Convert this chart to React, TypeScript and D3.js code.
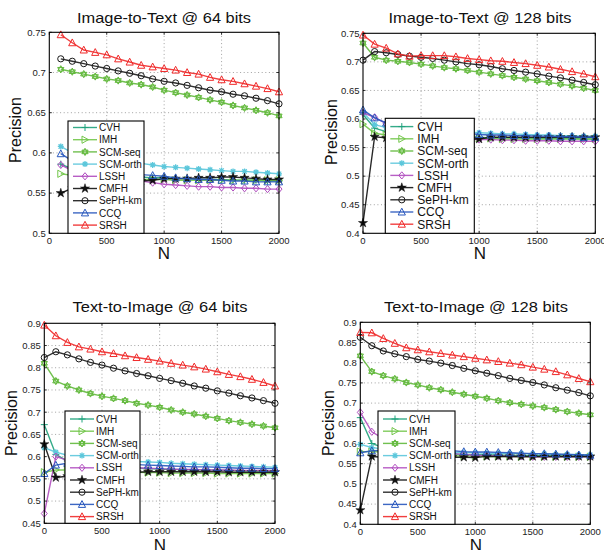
import React from "react";
import * as d3 from "d3";

const SERIES = ["CVH", "IMH", "SCM-seq", "SCM-orth", "LSSH", "CMFH", "SePH-km", "CCQ", "SRSH"];

const X_FROM_100 = [100, 200, 300, 400, 500, 600, 700, 800, 900, 1000, 1100, 1200, 1300, 1400, 1500, 1600, 1700, 1800, 1900, 2000];
const X_FROM_0 = [0, 100, 200, 300, 400, 500, 600, 700, 800, 900, 1000, 1100, 1200, 1300, 1400, 1500, 1600, 1700, 1800, 1900, 2000];
const X_TICKS = [0, 500, 1000, 1500, 2000];

// Image-to-Text @ 64 bits
const i2t64Cvh = [0.586, 0.580, 0.577, 0.575, 0.573, 0.572, 0.571, 0.570, 0.569, 0.569, 0.568, 0.568, 0.567, 0.567, 0.567, 0.566, 0.566, 0.566, 0.565, 0.565];
const i2t64Imh = [0.574, 0.572, 0.571, 0.570, 0.569, 0.568, 0.568, 0.567, 0.567, 0.567, 0.566, 0.566, 0.566, 0.566, 0.566, 0.566, 0.566, 0.566, 0.566, 0.566];
const i2t64Seq = [0.704, 0.701, 0.698, 0.695, 0.692, 0.690, 0.687, 0.685, 0.682, 0.678, 0.675, 0.672, 0.669, 0.666, 0.663, 0.659, 0.656, 0.653, 0.650, 0.646];
const i2t64Orth = [0.608, 0.600, 0.596, 0.593, 0.591, 0.589, 0.588, 0.587, 0.585, 0.583, 0.582, 0.581, 0.580, 0.579, 0.578, 0.577, 0.577, 0.576, 0.575, 0.574];
const i2t64Lssh = [0.585, 0.578, 0.574, 0.571, 0.569, 0.567, 0.566, 0.565, 0.563, 0.561, 0.560, 0.559, 0.558, 0.558, 0.557, 0.557, 0.556, 0.556, 0.555, 0.555];
const i2t64Cmfh = [0.550, 0.556, 0.560, 0.562, 0.563, 0.564, 0.565, 0.565, 0.566, 0.568, 0.568, 0.568, 0.569, 0.569, 0.570, 0.570, 0.569, 0.568, 0.567, 0.567];
const i2t64Seph = [0.717, 0.714, 0.711, 0.708, 0.705, 0.702, 0.699, 0.696, 0.692, 0.689, 0.687, 0.684, 0.681, 0.678, 0.676, 0.673, 0.671, 0.668, 0.665, 0.661];
const i2t64Ccq = [0.599, 0.590, 0.584, 0.580, 0.577, 0.575, 0.574, 0.573, 0.572, 0.571, 0.569, 0.568, 0.567, 0.567, 0.566, 0.565, 0.565, 0.564, 0.564, 0.564];
const i2t64Srsh = [0.747, 0.737, 0.728, 0.725, 0.722, 0.717, 0.713, 0.709, 0.707, 0.705, 0.703, 0.700, 0.698, 0.694, 0.691, 0.689, 0.686, 0.683, 0.680, 0.676];

// Image-to-Text @ 128 bits
const i2t128Cvh = [0.608, 0.584, 0.578, 0.575, 0.573, 0.571, 0.570, 0.569, 0.569, 0.568, 0.568, 0.567, 0.567, 0.567, 0.566, 0.566, 0.566, 0.566, 0.566, 0.565, 0.565];
const i2t128Imh = [0.591, 0.575, 0.572, 0.570, 0.569, 0.568, 0.567, 0.567, 0.566, 0.566, 0.566, 0.566, 0.565, 0.565, 0.565, 0.565, 0.565, 0.565, 0.565, 0.565, 0.565];
const i2t128Seq = [0.733, 0.708, 0.703, 0.701, 0.699, 0.696, 0.693, 0.690, 0.688, 0.685, 0.682, 0.679, 0.676, 0.673, 0.670, 0.667, 0.664, 0.661, 0.658, 0.654, 0.650];
const i2t128Orth = [0.612, 0.590, 0.585, 0.582, 0.580, 0.579, 0.578, 0.578, 0.577, 0.577, 0.576, 0.575, 0.574, 0.574, 0.573, 0.572, 0.572, 0.571, 0.571, 0.570, 0.570];
const i2t128Lssh = [0.611, 0.603, 0.592, 0.584, 0.578, 0.574, 0.571, 0.569, 0.567, 0.566, 0.564, 0.564, 0.563, 0.563, 0.562, 0.562, 0.562, 0.561, 0.561, 0.561, 0.561];
const i2t128Cmfh = [0.418, 0.569, 0.567, 0.566, 0.566, 0.566, 0.566, 0.566, 0.566, 0.565, 0.565, 0.568, 0.568, 0.568, 0.568, 0.568, 0.568, 0.568, 0.568, 0.568, 0.568];
const i2t128Seph = [0.703, 0.718, 0.716, 0.713, 0.710, 0.708, 0.706, 0.703, 0.700, 0.697, 0.695, 0.692, 0.688, 0.685, 0.682, 0.679, 0.675, 0.672, 0.668, 0.664, 0.660];
const i2t128Ccq = [0.616, 0.602, 0.593, 0.587, 0.583, 0.580, 0.578, 0.577, 0.576, 0.575, 0.573, 0.572, 0.572, 0.571, 0.571, 0.570, 0.570, 0.569, 0.569, 0.568, 0.568];
const i2t128Srsh = [0.747, 0.731, 0.724, 0.714, 0.710, 0.711, 0.711, 0.711, 0.709, 0.706, 0.704, 0.702, 0.701, 0.699, 0.697, 0.694, 0.691, 0.687, 0.683, 0.679, 0.674];

// Text-to-Image @ 64 bits
const t2i64Cvh = [0.672, 0.605, 0.590, 0.584, 0.580, 0.578, 0.576, 0.575, 0.574, 0.573, 0.572, 0.571, 0.571, 0.570, 0.570, 0.569, 0.569, 0.568, 0.568, 0.568, 0.567];
const t2i64Imh = [0.565, 0.570, 0.570, 0.570, 0.569, 0.568, 0.567, 0.566, 0.565, 0.564, 0.564, 0.563, 0.563, 0.563, 0.563, 0.562, 0.562, 0.562, 0.562, 0.562, 0.562];
const t2i64Seq = [0.810, 0.770, 0.759, 0.750, 0.742, 0.736, 0.731, 0.726, 0.720, 0.716, 0.711, 0.705, 0.700, 0.696, 0.691, 0.686, 0.681, 0.677, 0.673, 0.669, 0.665];
const t2i64Orth = [0.620, 0.610, 0.603, 0.598, 0.595, 0.593, 0.591, 0.590, 0.589, 0.588, 0.587, 0.585, 0.584, 0.583, 0.582, 0.581, 0.580, 0.579, 0.578, 0.577, 0.576];
const t2i64Lssh = [0.472, 0.600, 0.592, 0.587, 0.583, 0.580, 0.578, 0.576, 0.575, 0.574, 0.573, 0.572, 0.571, 0.571, 0.570, 0.570, 0.570, 0.569, 0.569, 0.569, 0.568];
const t2i64Cmfh = [0.628, 0.553, 0.556, 0.559, 0.561, 0.562, 0.563, 0.564, 0.565, 0.566, 0.566, 0.566, 0.566, 0.566, 0.566, 0.566, 0.565, 0.565, 0.565, 0.565, 0.565];
const t2i64Seph = [0.823, 0.836, 0.829, 0.820, 0.812, 0.806, 0.799, 0.793, 0.787, 0.782, 0.776, 0.771, 0.765, 0.759, 0.754, 0.748, 0.743, 0.737, 0.732, 0.726, 0.720];
const t2i64Ccq = [0.562, 0.581, 0.585, 0.585, 0.584, 0.584, 0.583, 0.583, 0.582, 0.581, 0.580, 0.579, 0.578, 0.577, 0.577, 0.576, 0.575, 0.574, 0.574, 0.573, 0.573];
const t2i64Srsh = [0.896, 0.872, 0.857, 0.847, 0.842, 0.836, 0.832, 0.827, 0.823, 0.819, 0.815, 0.810, 0.806, 0.802, 0.797, 0.791, 0.785, 0.780, 0.774, 0.767, 0.759];

// Text-to-Image @ 128 bits
const t2i128Cvh = [0.664, 0.600, 0.590, 0.584, 0.580, 0.578, 0.576, 0.575, 0.574, 0.573, 0.572, 0.572, 0.571, 0.571, 0.570, 0.570, 0.570, 0.569, 0.569, 0.569, 0.569];
const t2i128Imh = [0.580, 0.580, 0.579, 0.577, 0.575, 0.573, 0.572, 0.571, 0.570, 0.569, 0.569, 0.568, 0.568, 0.568, 0.567, 0.567, 0.567, 0.567, 0.567, 0.567, 0.567];
const t2i128Seq = [0.817, 0.778, 0.768, 0.760, 0.751, 0.745, 0.738, 0.733, 0.727, 0.722, 0.717, 0.712, 0.706, 0.701, 0.697, 0.693, 0.689, 0.684, 0.679, 0.675, 0.671];
const t2i128Orth = [0.598, 0.590, 0.586, 0.584, 0.582, 0.581, 0.580, 0.579, 0.578, 0.578, 0.577, 0.576, 0.576, 0.575, 0.575, 0.574, 0.574, 0.573, 0.573, 0.572, 0.572];
const t2i128Lssh = [0.677, 0.629, 0.612, 0.600, 0.592, 0.586, 0.582, 0.578, 0.575, 0.573, 0.571, 0.570, 0.569, 0.568, 0.568, 0.567, 0.567, 0.567, 0.567, 0.567, 0.567];
const t2i128Cmfh = [0.435, 0.568, 0.566, 0.566, 0.566, 0.566, 0.566, 0.566, 0.566, 0.566, 0.565, 0.568, 0.568, 0.568, 0.568, 0.568, 0.568, 0.568, 0.568, 0.568, 0.568];
const t2i128Seph = [0.863, 0.842, 0.829, 0.822, 0.815, 0.808, 0.804, 0.799, 0.793, 0.786, 0.780, 0.774, 0.768, 0.761, 0.756, 0.751, 0.745, 0.738, 0.732, 0.726, 0.718];
const t2i128Ccq = [0.577, 0.582, 0.583, 0.584, 0.584, 0.583, 0.583, 0.582, 0.582, 0.580, 0.579, 0.579, 0.578, 0.577, 0.576, 0.575, 0.575, 0.574, 0.573, 0.572, 0.571];
const t2i128Srsh = [0.875, 0.874, 0.860, 0.848, 0.837, 0.832, 0.827, 0.823, 0.819, 0.815, 0.811, 0.807, 0.803, 0.799, 0.795, 0.789, 0.784, 0.778, 0.770, 0.761, 0.753];

const COLORS = ["#1fa27c", "#72c64a", "#62b93c", "#5cc7db", "#b04cbf", "#111111", "#1a1a1a", "#2857bd", "#f02a2a"];
const MARKERS = ["plus", "triRight", "hexagram", "asterisk", "diamond", "pentagram", "circle", "triUp", "triUp"];

const FONT = "'Liberation Sans', Arial, Helvetica, sans-serif";

const star = d3.symbol(d3.symbolStar, 26)() as string;

function Marker({ kind, color, x, y }: { kind: string; color: string; x: number; y: number }) {
  const t = `translate(${x},${y})`;
  const common = { transform: t, stroke: color, strokeWidth: 1, fill: "none" };
  switch (kind) {
    case "plus":
      return <path {...common} d="M-3.5,0H3.5M0,-3.5V3.5" />;
    case "triRight":
      return <path {...common} d="M3.5,0L-3,-3.6L-3,3.6Z" />;
    case "triUp":
      return <path {...common} d="M0,-3.8L3.6,3L-3.6,3Z" />;
    case "diamond":
      return <path {...common} d="M0,-3.6L3,0L0,3.6L-3,0Z" />;
    case "circle":
      return <circle {...common} r={3.1} />;
    case "asterisk":
      return <path {...common} strokeWidth={1.3} d="M-3,0H3M0,-3V3M-2.2,-2.2L2.2,2.2M-2.2,2.2L2.2,-2.2" />;
    case "hexagram":
      return <path {...common} fill={color} fillOpacity={0.45} d="M0,-3.6L3.1,1.8L-3.1,1.8ZM0,3.6L3.1,-1.8L-3.1,-1.8Z" />;
    case "pentagram":
      return <path transform={t} d={star} fill={color} stroke={color} strokeWidth={0.5} />;
    default:
      return null;
  }
}

type PanelDef = {
  title: string;
  titleWidth: number;
  xs: number[];
  values: number[][];
  yDomain: [number, number];
  yTicks: number[];
  box: { x0: number; x1: number; y0: number; y1: number };
  titleAt: [number, number];
  ylabelAt: [number, number];
  nAt: [number, number];
  legend: { x0: number; x1: number; y0: number; y1: number; first: number; step: number; font: number; textDx: number; lineEnd: number };
};

const PANELS: PanelDef[] = [
  {
    title: "Image-to-Text @ 64 bits",
    titleWidth: 174,
    xs: X_FROM_100,
    values: [i2t64Cvh, i2t64Imh, i2t64Seq, i2t64Orth, i2t64Lssh, i2t64Cmfh, i2t64Seph, i2t64Ccq, i2t64Srsh],
    yDomain: [0.5, 0.75],
    yTicks: [0.5, 0.55, 0.6, 0.65, 0.7, 0.75],
    box: { x0: 49.3, x1: 279, y0: 32.3, y1: 233.3 },
    titleAt: [164, 23],
    ylabelAt: [21, 130],
    nAt: [164, 258.5],
    legend: { x0: 68, x1: 144, y0: 121, y1: 233.3, first: 6.5, step: 12.2, font: 10, textDx: 31, lineEnd: 29 },
  },
  {
    title: "Image-to-Text @ 128 bits",
    titleWidth: 183,
    xs: X_FROM_0,
    values: [i2t128Cvh, i2t128Imh, i2t128Seq, i2t128Orth, i2t128Lssh, i2t128Cmfh, i2t128Seph, i2t128Ccq, i2t128Srsh],
    yDomain: [0.4, 0.75],
    yTicks: [0.4, 0.45, 0.5, 0.55, 0.6, 0.65, 0.7, 0.75],
    box: { x0: 363, x1: 595.3, y0: 33.3, y1: 233.3 },
    titleAt: [480, 23],
    ylabelAt: [337, 132],
    nAt: [480, 258.5],
    legend: { x0: 385.3, x1: 474.3, y0: 118.3, y1: 233.3, first: 8.3, step: 12.2, font: 12, textDx: 32, lineEnd: 28 },
  },
  {
    title: "Text-to-Image @ 64 bits",
    titleWidth: 175,
    xs: X_FROM_0,
    values: [t2i64Cvh, t2i64Imh, t2i64Seq, t2i64Orth, t2i64Lssh, t2i64Cmfh, t2i64Seph, t2i64Ccq, t2i64Srsh],
    yDomain: [0.45, 0.9],
    yTicks: [0.45, 0.5, 0.55, 0.6, 0.65, 0.7, 0.75, 0.8, 0.85, 0.9],
    box: { x0: 44.3, x1: 275, y0: 323.3, y1: 523.3 },
    titleAt: [160, 312],
    ylabelAt: [16.5, 423],
    nAt: [160, 551],
    legend: { x0: 65, x1: 140, y0: 411, y1: 523.3, first: 8, step: 12.2, font: 10, textDx: 31, lineEnd: 29 },
  },
  {
    title: "Text-to-Image @ 128 bits",
    titleWidth: 184,
    xs: X_FROM_0,
    values: [t2i128Cvh, t2i128Imh, t2i128Seq, t2i128Orth, t2i128Lssh, t2i128Cmfh, t2i128Seph, t2i128Ccq, t2i128Srsh],
    yDomain: [0.4, 0.9],
    yTicks: [0.4, 0.45, 0.5, 0.55, 0.6, 0.65, 0.7, 0.75, 0.8, 0.85, 0.9],
    box: { x0: 360.3, x1: 590.3, y0: 322.3, y1: 524.3 },
    titleAt: [476, 312],
    ylabelAt: [333.5, 423],
    nAt: [476, 551],
    legend: { x0: 378, x1: 455, y0: 411, y1: 524.3, first: 8, step: 12.2, font: 10, textDx: 31, lineEnd: 29 },
  },
];

const fmt = (v: number) => String(+v.toFixed(2));

function Panel({ p, idx }: { p: PanelDef; idx: number }) {
  const { box, legend } = p;
  const x = d3.scaleLinear().domain([0, 2000]).range([box.x0, box.x1]);
  const y = d3.scaleLinear().domain(p.yDomain).range([box.y1, box.y0]);
  const line = d3
    .line<number>()
    .x((_, i) => x(p.xs[i]))
    .y((d) => y(d));
  const clipId = `clip${idx}`;
  return (
    <g>
      <defs>
        <clipPath id={clipId}>
          <rect x={box.x0 - 5} y={box.y0 - 5} width={box.x1 - box.x0 + 10} height={box.y1 - box.y0 + 10} />
        </clipPath>
      </defs>
      <rect x={box.x0} y={box.y0} width={box.x1 - box.x0} height={box.y1 - box.y0} fill="#fff" />
      {/* grid */}
      {X_TICKS.slice(1, -1).map((t) => (
        <line key={"gx" + t} x1={x(t)} x2={x(t)} y1={box.y0} y2={box.y1} stroke="#8a8a8a" strokeWidth={0.8} strokeDasharray="1,2.6" />
      ))}
      {p.yTicks.slice(1, -1).map((t) => (
        <line key={"gy" + t} x1={box.x0} x2={box.x1} y1={y(t)} y2={y(t)} stroke="#8a8a8a" strokeWidth={0.8} strokeDasharray="1,2.6" />
      ))}
      {/* series */}
      <g clipPath={`url(#${clipId})`}>
        {p.values.map((vals, s) => (
          <g key={SERIES[s]}>
            <path d={line(vals) as string} fill="none" stroke={COLORS[s]} strokeWidth={1.4} strokeOpacity={0.9} />
            {vals.map((v, i) => (
              <Marker key={i} kind={MARKERS[s]} color={COLORS[s]} x={x(p.xs[i])} y={y(v)} />
            ))}
          </g>
        ))}
      </g>
      {/* ticks */}
      {X_TICKS.map((t) => (
        <g key={"tx" + t}>
          <line x1={x(t)} x2={x(t)} y1={box.y1} y2={box.y1 - 2.5} stroke="#000" strokeWidth={0.8} />
          <line x1={x(t)} x2={x(t)} y1={box.y0} y2={box.y0 + 2.5} stroke="#000" strokeWidth={0.8} />
          <text x={x(t)} y={box.y1 + 10.5} textAnchor="middle" fontSize={9.5} fontFamily={FONT} fill="#222">
            {t}
          </text>
        </g>
      ))}
      {p.yTicks.map((t) => (
        <g key={"ty" + t}>
          <line x1={box.x0} x2={box.x0 + 2.5} y1={y(t)} y2={y(t)} stroke="#000" strokeWidth={0.8} />
          <line x1={box.x1} x2={box.x1 - 2.5} y1={y(t)} y2={y(t)} stroke="#000" strokeWidth={0.8} />
          <text x={box.x0 - 3.5} y={y(t)} dy="0.35em" textAnchor="end" fontSize={9.5} fontFamily={FONT} fill="#222">
            {fmt(t)}
          </text>
        </g>
      ))}
      <rect x={box.x0} y={box.y0} width={box.x1 - box.x0} height={box.y1 - box.y0} fill="none" stroke="#000" strokeWidth={1.1} />
      {/* legend */}
      <rect x={legend.x0} y={legend.y0} width={legend.x1 - legend.x0} height={legend.y1 - legend.y0} fill="#fff" stroke="#000" strokeWidth={1.1} />
      {SERIES.map((name, s) => {
        const ry = legend.y0 + legend.first + s * legend.step;
        const lx0 = legend.x0 + 5;
        const lx1 = legend.x0 + legend.lineEnd;
        return (
          <g key={"lg" + name}>
            <line x1={lx0} x2={lx1} y1={ry} y2={ry} stroke={COLORS[s]} strokeWidth={1.4} strokeOpacity={0.9} />
            <Marker kind={MARKERS[s]} color={COLORS[s]} x={(lx0 + lx1) / 2} y={ry} />
            <text x={legend.x0 + legend.textDx} y={ry} dy="0.36em" fontSize={legend.font} fontFamily={FONT} fill="#111">
              {name}
            </text>
          </g>
        );
      })}
      {/* labels */}
      <text
        x={p.titleAt[0]}
        y={p.titleAt[1]}
        textAnchor="middle"
        fontSize={14.5}
        fontFamily={FONT}
        fill="#111"
        textLength={p.titleWidth}
        lengthAdjust="spacingAndGlyphs"
      >
        {p.title}
      </text>
      <text
        transform={`translate(${p.ylabelAt[0]},${p.ylabelAt[1]}) rotate(-90)`}
        textAnchor="middle"
        fontSize={16}
        fontFamily={FONT}
        fill="#111"
      >
        Precision
      </text>
      <text x={p.nAt[0]} y={p.nAt[1]} textAnchor="middle" fontSize={17} fontFamily={FONT} fill="#111">
        N
      </text>
    </g>
  );
}

export default function App() {
  return (
    <svg width={604} height={550} style={{ position: "absolute", left: 0, top: 0, background: "#fff" }}>
      <rect width={604} height={550} fill="#fff" />
      {PANELS.map((p, i) => (
        <Panel key={p.title} p={p} idx={i} />
      ))}
    </svg>
  );
}
